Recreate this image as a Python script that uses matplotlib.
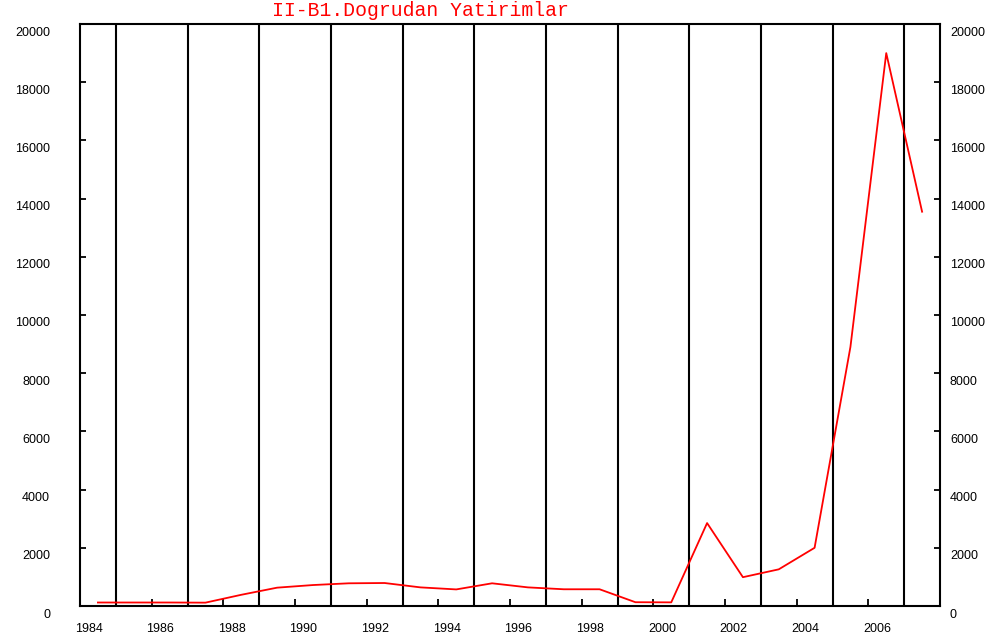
import numpy as np
import matplotlib
matplotlib.use('Agg')
import matplotlib.pyplot as plt
from matplotlib.transforms import ScaledTranslation

# yearly values
years = list(range(1984, 2008))
values = [120, 120, 120, 115, 385, 630, 720, 780, 790, 640, 570, 780,
          640, 575, 575, 130, 125, 2850, 990, 1260, 2000, 8900, 19000, 13550]
xtick_years = list(range(1984, 2007, 2))
grid_years = list(range(1985, 2008, 2))
ytick_vals = list(range(0, 20001, 2000))
title = "II-B1.Dogrudan Yatirimlar"

plt.rcParams['font.family'] = ['Liberation Sans', 'DejaVu Sans']

fig = plt.figure(figsize=(9.92, 6.44), dpi=100)
ax = fig.add_axes([80/992, 38/644, 860/992, 582/644])

for g in grid_years:
	ax.axvline(g, color='black', lw=1.5, zorder=1)

# points sit in the middle of each year
x = np.array(years) + 0.5
ax.plot(x, values, color='#ff0000', lw=1.3, zorder=3)

ax.set_xlim(1984, 2008)
ax.set_ylim(0, 20000)
ax.set_xticks(xtick_years)
ax.set_xticklabels([str(y) for y in xtick_years])
ax.set_yticks(ytick_vals)
ax.set_yticklabels([str(v) for v in ytick_vals])

for s in ax.spines.values():
	s.set_linewidth(1.5)
	s.set_color('black')

ax.tick_params(axis='x', direction='in', length=5, width=1.3, pad=12, labelsize=9)
ax.tick_params(axis='y', direction='in', length=4, width=1.3, pad=10, labelsize=9,
               left=True, right=True, labelleft=True, labelright=True)

# labels in the reference are shifted a bit off their ticks
xoff = ScaledTranslation(8.5/100, 0, fig.dpi_scale_trans)
for t in ax.xaxis.get_major_ticks():
	t.label1.set_transform(ax.get_xaxis_transform() + ScaledTranslation(0, -17/100, fig.dpi_scale_trans) + xoff)
	t.label1.set_va('top')
lefttr = ax.get_yaxis_transform() + ScaledTranslation(-30/100, -7/100, fig.dpi_scale_trans)
righttr = ax.get_yaxis_transform() + ScaledTranslation(10/100, -7/100, fig.dpi_scale_trans)
for t in ax.yaxis.get_major_ticks():
	t.label1.set_transform(lefttr)
	t.label2.set_transform(righttr)

fig.text(272/992, 1 - 10/644, title, color='#ff0000', fontsize=14.2,
         family='Liberation Mono', ha='left', va='center')

fig.savefig('out.png', dpi=100)
